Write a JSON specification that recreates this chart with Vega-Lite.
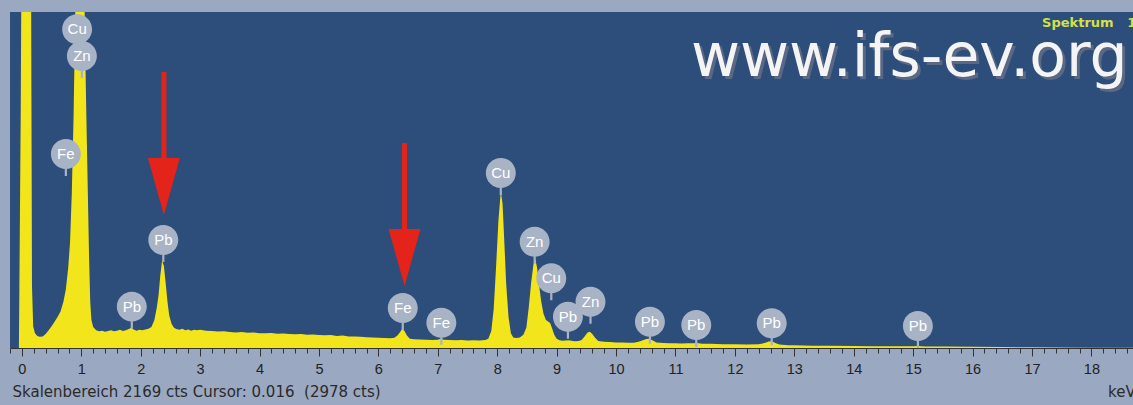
{
  "$schema": "https://vega.github.io/schema/vega-lite/v6.json",
  "width": 1123,
  "height": 336,
  "autosize": {"type": "none"},
  "padding": {"left": 10, "top": 12, "right": 0, "bottom": 57},
  "background": "#9ba8c1",
  "config": {"view": {"fill": "#2d4d7b", "stroke": null}, "font": "Liberation Sans"},
  "resolve": {"axis": {"x": "independent"}},
  "datasets": {
    "spectrum": [
      {"keV": -0.2, "cts": 0}, {"keV": -0.05, "cts": 0}, {"keV": -0.02, "cts": 1500}, {"keV": 0.0, "cts": 3000},
      {"keV": 0.08, "cts": 3000}, {"keV": 0.15, "cts": 3000}, {"keV": 0.17, "cts": 400}, {"keV": 0.19, "cts": 140},
      {"keV": 0.22, "cts": 95}, {"keV": 0.26, "cts": 78}, {"keV": 0.3, "cts": 72}, {"keV": 0.35, "cts": 75},
      {"keV": 0.4, "cts": 90}, {"keV": 0.45, "cts": 115}, {"keV": 0.5, "cts": 140}, {"keV": 0.55, "cts": 170},
      {"keV": 0.6, "cts": 200}, {"keV": 0.65, "cts": 235}, {"keV": 0.7, "cts": 300}, {"keV": 0.74, "cts": 380},
      {"keV": 0.78, "cts": 520}, {"keV": 0.81, "cts": 680}, {"keV": 0.84, "cts": 1000}, {"keV": 0.87, "cts": 1500},
      {"keV": 0.9, "cts": 2200}, {"keV": 0.93, "cts": 3000}, {"keV": 1.02, "cts": 3000}, {"keV": 1.05, "cts": 2300},
      {"keV": 1.08, "cts": 1600}, {"keV": 1.11, "cts": 1000}, {"keV": 1.13, "cts": 600}, {"keV": 1.15, "cts": 300},
      {"keV": 1.17, "cts": 180}, {"keV": 1.2, "cts": 135}, {"keV": 1.25, "cts": 115}, {"keV": 1.3, "cts": 108},
      {"keV": 1.35, "cts": 112}, {"keV": 1.4, "cts": 105}, {"keV": 1.45, "cts": 110}, {"keV": 1.5, "cts": 115},
      {"keV": 1.55, "cts": 108}, {"keV": 1.6, "cts": 112}, {"keV": 1.65, "cts": 118}, {"keV": 1.7, "cts": 110},
      {"keV": 1.75, "cts": 115}, {"keV": 1.8, "cts": 122}, {"keV": 1.84, "cts": 130}, {"keV": 1.88, "cts": 120},
      {"keV": 1.93, "cts": 112}, {"keV": 1.98, "cts": 118}, {"keV": 2.03, "cts": 114}, {"keV": 2.08, "cts": 120},
      {"keV": 2.13, "cts": 125}, {"keV": 2.18, "cts": 135}, {"keV": 2.23, "cts": 180}, {"keV": 2.27, "cts": 260},
      {"keV": 2.3, "cts": 340}, {"keV": 2.33, "cts": 470}, {"keV": 2.36, "cts": 565}, {"keV": 2.39, "cts": 530},
      {"keV": 2.42, "cts": 420}, {"keV": 2.45, "cts": 300}, {"keV": 2.48, "cts": 210}, {"keV": 2.52, "cts": 155},
      {"keV": 2.56, "cts": 130}, {"keV": 2.6, "cts": 122}, {"keV": 2.65, "cts": 118}, {"keV": 2.7, "cts": 124},
      {"keV": 2.75, "cts": 115}, {"keV": 2.8, "cts": 120}, {"keV": 2.85, "cts": 112}, {"keV": 2.9, "cts": 118},
      {"keV": 2.95, "cts": 114}, {"keV": 3.0, "cts": 118}, {"keV": 3.1, "cts": 112}, {"keV": 3.2, "cts": 110},
      {"keV": 3.3, "cts": 106}, {"keV": 3.4, "cts": 108}, {"keV": 3.5, "cts": 104}, {"keV": 3.6, "cts": 100},
      {"keV": 3.7, "cts": 103}, {"keV": 3.8, "cts": 98}, {"keV": 3.9, "cts": 100}, {"keV": 4.0, "cts": 96},
      {"keV": 4.1, "cts": 95}, {"keV": 4.2, "cts": 97}, {"keV": 4.3, "cts": 92}, {"keV": 4.4, "cts": 94},
      {"keV": 4.5, "cts": 90}, {"keV": 4.6, "cts": 89}, {"keV": 4.7, "cts": 91}, {"keV": 4.8, "cts": 86},
      {"keV": 4.9, "cts": 87}, {"keV": 5.0, "cts": 84}, {"keV": 5.1, "cts": 82}, {"keV": 5.2, "cts": 84},
      {"keV": 5.3, "cts": 78}, {"keV": 5.4, "cts": 80}, {"keV": 5.5, "cts": 75}, {"keV": 5.6, "cts": 74},
      {"keV": 5.7, "cts": 72}, {"keV": 5.8, "cts": 70}, {"keV": 5.9, "cts": 68}, {"keV": 6.0, "cts": 66},
      {"keV": 6.1, "cts": 64}, {"keV": 6.2, "cts": 63}, {"keV": 6.27, "cts": 66}, {"keV": 6.32, "cts": 80},
      {"keV": 6.36, "cts": 100}, {"keV": 6.4, "cts": 122}, {"keV": 6.44, "cts": 110}, {"keV": 6.48, "cts": 80},
      {"keV": 6.53, "cts": 60}, {"keV": 6.6, "cts": 56}, {"keV": 6.7, "cts": 55}, {"keV": 6.8, "cts": 54},
      {"keV": 6.9, "cts": 52}, {"keV": 7.0, "cts": 54}, {"keV": 7.05, "cts": 60}, {"keV": 7.1, "cts": 53},
      {"keV": 7.2, "cts": 51}, {"keV": 7.3, "cts": 50}, {"keV": 7.4, "cts": 52}, {"keV": 7.5, "cts": 49},
      {"keV": 7.6, "cts": 50}, {"keV": 7.7, "cts": 48}, {"keV": 7.8, "cts": 52}, {"keV": 7.85, "cts": 60},
      {"keV": 7.9, "cts": 110}, {"keV": 7.94, "cts": 250}, {"keV": 7.98, "cts": 520}, {"keV": 8.02, "cts": 820},
      {"keV": 8.06, "cts": 1013}, {"keV": 8.09, "cts": 930}, {"keV": 8.12, "cts": 680}, {"keV": 8.15, "cts": 420},
      {"keV": 8.19, "cts": 200}, {"keV": 8.23, "cts": 95}, {"keV": 8.27, "cts": 68}, {"keV": 8.32, "cts": 64},
      {"keV": 8.38, "cts": 68}, {"keV": 8.44, "cts": 85}, {"keV": 8.49, "cts": 130}, {"keV": 8.53, "cts": 260},
      {"keV": 8.57, "cts": 420}, {"keV": 8.61, "cts": 540}, {"keV": 8.64, "cts": 574}, {"keV": 8.67, "cts": 520},
      {"keV": 8.7, "cts": 420}, {"keV": 8.74, "cts": 300}, {"keV": 8.78, "cts": 220}, {"keV": 8.82, "cts": 180},
      {"keV": 8.86, "cts": 170}, {"keV": 8.89, "cts": 162}, {"keV": 8.92, "cts": 130}, {"keV": 8.96, "cts": 85},
      {"keV": 9.0, "cts": 60}, {"keV": 9.05, "cts": 50}, {"keV": 9.1, "cts": 47}, {"keV": 9.15, "cts": 48},
      {"keV": 9.2, "cts": 50}, {"keV": 9.25, "cts": 46}, {"keV": 9.3, "cts": 44}, {"keV": 9.37, "cts": 45},
      {"keV": 9.42, "cts": 52}, {"keV": 9.47, "cts": 75}, {"keV": 9.52, "cts": 100}, {"keV": 9.56, "cts": 105},
      {"keV": 9.6, "cts": 90}, {"keV": 9.65, "cts": 65}, {"keV": 9.7, "cts": 45}, {"keV": 9.8, "cts": 40},
      {"keV": 9.9, "cts": 38}, {"keV": 10.0, "cts": 36}, {"keV": 10.1, "cts": 35}, {"keV": 10.2, "cts": 34},
      {"keV": 10.3, "cts": 34}, {"keV": 10.38, "cts": 40}, {"keV": 10.45, "cts": 50}, {"keV": 10.51, "cts": 58},
      {"keV": 10.56, "cts": 60}, {"keV": 10.62, "cts": 48}, {"keV": 10.68, "cts": 36}, {"keV": 10.8, "cts": 32},
      {"keV": 10.9, "cts": 31}, {"keV": 11.0, "cts": 30}, {"keV": 11.1, "cts": 29}, {"keV": 11.2, "cts": 30},
      {"keV": 11.3, "cts": 31}, {"keV": 11.36, "cts": 33}, {"keV": 11.45, "cts": 28}, {"keV": 11.6, "cts": 27},
      {"keV": 11.7, "cts": 26}, {"keV": 11.8, "cts": 25}, {"keV": 12.0, "cts": 24}, {"keV": 12.2, "cts": 23},
      {"keV": 12.4, "cts": 25}, {"keV": 12.5, "cts": 32}, {"keV": 12.57, "cts": 42}, {"keV": 12.62, "cts": 44},
      {"keV": 12.68, "cts": 32}, {"keV": 12.75, "cts": 22}, {"keV": 12.9, "cts": 18}, {"keV": 13.0, "cts": 17},
      {"keV": 13.3, "cts": 15}, {"keV": 13.6, "cts": 14}, {"keV": 14.0, "cts": 13}, {"keV": 14.3, "cts": 12},
      {"keV": 14.6, "cts": 12}, {"keV": 15.0, "cts": 11}, {"keV": 15.07, "cts": 13}, {"keV": 15.2, "cts": 10},
      {"keV": 15.5, "cts": 9}, {"keV": 16.0, "cts": 8}, {"keV": 16.5, "cts": 6}, {"keV": 17.0, "cts": 5},
      {"keV": 17.5, "cts": 4}, {"keV": 18.0, "cts": 2}, {"keV": 18.7, "cts": 2}
    ],
    "labels": [
      {"element": "Cu", "keV": 0.93, "cts": 1915},
      {"element": "Zn", "keV": 1.01, "cts": 1743},
      {"element": "Fe", "keV": 0.74, "cts": 1110},
      {"element": "Pb", "keV": 1.85, "cts": 125},
      {"element": "Pb", "keV": 2.38, "cts": 555},
      {"element": "Fe", "keV": 6.41, "cts": 116},
      {"element": "Fe", "keV": 7.06, "cts": 21},
      {"element": "Cu", "keV": 8.06, "cts": 988},
      {"element": "Zn", "keV": 8.63, "cts": 544},
      {"element": "Cu", "keV": 8.91, "cts": 308},
      {"element": "Pb", "keV": 9.19, "cts": 60},
      {"element": "Zn", "keV": 9.57, "cts": 157},
      {"element": "Pb", "keV": 10.57, "cts": 28},
      {"element": "Pb", "keV": 11.35, "cts": 6},
      {"element": "Pb", "keV": 12.62, "cts": 17},
      {"element": "Pb", "keV": 15.08, "cts": 0}
    ],
    "arrows": [
      {"keV": 2.39, "cts": 858},
      {"keV": 6.44, "cts": 400}
    ]
  },
  "layer": [
    {
      "data": {"name": "spectrum"},
      "mark": {"type": "area", "clip": true, "color": "#f2e51c", "interpolate": "linear"},
      "encoding": {
        "x": {
          "field": "keV", "type": "quantitative",
          "scale": {"domain": [-0.2, 18.7], "nice": false, "zero": false},
          "axis": {
            "orient": "bottom",
            "values": [0, 1, 2, 3, 4, 5, 6, 7, 8, 9, 10, 11, 12, 13, 14, 15, 16, 17, 18],
            "format": "d",
            "labelOverlap": false,
            "labelFlush": false,
            "labelBound": false,
            "labelFont": "Liberation Sans",
            "labelFontSize": 14.5,
            "labelColor": "#222222",
            "labelPadding": 6,
            "tickColor": "#333333",
            "tickWidth": 1,
            "tickSize": 8,
            "domainColor": "#333333",
            "domainWidth": 1,
            "grid": false,
            "title": "Skalenbereich 2169 cts Cursor: 0.016\u00a0 (2978 cts)",
            "titleAnchor": "start",
            "titleAlign": "left",
            "titleX": 2,
            "titleY": 48,
            "titleBaseline": "alphabetic",
            "titleFont": "DejaVu Sans",
            "titleFontSize": 15,
            "titleFontWeight": "normal",
            "titleColor": "#2a2a2a"
          }
        },
        "y": {
          "field": "cts", "type": "quantitative",
          "scale": {"domain": [0, 2169], "nice": false, "zero": true},
          "axis": null
        }
      }
    },
    {
      "data": {"values": [{}]},
      "mark": {"type": "text", "text": "www.ifs-ev.org", "align": "right", "baseline": "alphabetic", "font": "DejaVu Sans", "fontSize": 60, "color": "#5f6c86", "dx": 3, "dy": 3, "opacity": 0.9},
      "encoding": {"x": {"datum": 18.61, "type": "quantitative", "axis": null}, "y": {"datum": 1755, "type": "quantitative"}}
    },
    {
      "data": {"values": [{}]},
      "mark": {"type": "text", "text": "www.ifs-ev.org", "align": "right", "baseline": "alphabetic", "font": "DejaVu Sans", "fontSize": 60, "color": "#f4f4f4"},
      "encoding": {"x": {"datum": 18.61, "type": "quantitative", "axis": null}, "y": {"datum": 1755, "type": "quantitative"}}
    },
    {
      "data": {"values": [{}]},
      "mark": {"type": "text", "text": "Spektrum\u00a0\u00a0\u00a01", "align": "left", "baseline": "alphabetic", "font": "DejaVu Sans", "fontWeight": "bold", "fontSize": 13, "color": "#d6e046", "clip": false},
      "encoding": {"x": {"datum": 17.17, "type": "quantitative", "axis": null}, "y": {"datum": 2072, "type": "quantitative"}}
    },
    {
      "data": {"values": [{}]},
      "mark": {"type": "text", "text": "keV", "align": "left", "baseline": "alphabetic", "font": "DejaVu Sans", "fontSize": 15, "color": "#2a2a2a", "clip": false},
      "encoding": {
        "x": {
          "datum": 18.28, "type": "quantitative",
          "axis": {
            "orient": "bottom",
            "values": [-0.2, 0.2, 0.4, 0.6, 0.8, 1.2, 1.4, 1.6, 1.8, 2.2, 2.4, 2.6, 2.8, 3.2, 3.4, 3.6, 3.8, 4.2, 4.4, 4.6, 4.8, 5.2, 5.4, 5.6, 5.8, 6.2, 6.4, 6.6, 6.8, 7.2, 7.4, 7.6, 7.8, 8.2, 8.4, 8.6, 8.8, 9.2, 9.4, 9.6, 9.8, 10.2, 10.4, 10.6, 10.8, 11.2, 11.4, 11.6, 11.8, 12.2, 12.4, 12.6, 12.8, 13.2, 13.4, 13.6, 13.8, 14.2, 14.4, 14.6, 14.8, 15.2, 15.4, 15.6, 15.8, 16.2, 16.4, 16.6, 16.8, 17.2, 17.4, 17.6, 17.8, 18.2, 18.4, 18.6],
            "labels": false,
            "domain": false,
            "grid": false,
            "tickSize": 5,
            "tickColor": "#333333",
            "tickWidth": 1,
            "title": null
          }
        },
        "y": {"datum": -316, "type": "quantitative"}
      }
    },
    {
      "data": {"name": "arrows"},
      "mark": {"type": "point", "shape": "M -0.044 -2.51 L 0.044 -2.51 L 0.044 -1 L 0.28 -1 L 0 0 L -0.28 -1 L -0.044 -1 Z", "filled": true, "color": "#e4231b", "size": 12996, "opacity": 1, "strokeWidth": 0},
      "encoding": {"x": {"field": "keV", "type": "quantitative", "axis": null}, "y": {"field": "cts", "type": "quantitative"}}
    },
    {
      "data": {"name": "labels"},
      "mark": {"type": "point", "shape": "M -0.405 -0.595 A 0.405 0.405 0 1 1 0.405 -0.595 A 0.405 0.405 0 1 1 -0.405 -0.595 Z M -0.03 -0.2 L 0.03 -0.2 L 0.03 0 L -0.03 0 Z", "filled": true, "color": "#a9b3c6", "size": 5476, "opacity": 1, "strokeWidth": 0},
      "encoding": {"x": {"field": "keV", "type": "quantitative", "axis": null}, "y": {"field": "cts", "type": "quantitative"}}
    },
    {
      "data": {"name": "labels"},
      "mark": {"type": "text", "align": "center", "baseline": "middle", "dy": -22, "font": "Liberation Sans", "fontSize": 15, "color": "#ffffff"},
      "encoding": {"x": {"field": "keV", "type": "quantitative", "axis": null}, "y": {"field": "cts", "type": "quantitative"}, "text": {"field": "element", "type": "nominal"}}
    }
  ]
}
